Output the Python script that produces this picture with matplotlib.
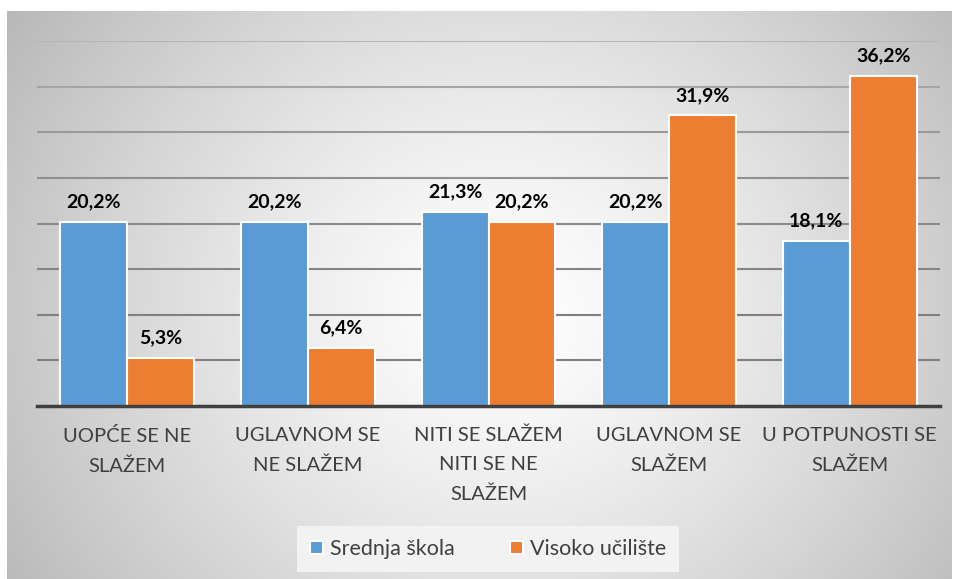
import numpy as np
import matplotlib.pyplot as plt

plt.rcParams['font.family'] = ['Lato', 'DejaVu Sans']

# podaci
kategorije = ['UOPĆE SE NE\nSLAŽEM', 'UGLAVNOM SE\nNE SLAŽEM', 'NITI SE SLAŽEM\nNITI SE NE\nSLAŽEM',
              'UGLAVNOM SE\nSLAŽEM', 'U POTPUNOSTI SE\nSLAŽEM']
srednja = [20.2, 20.2, 21.3, 20.2, 18.1]
visoko = [5.3, 6.4, 20.2, 31.9, 36.2]
serije = ['Srednja škola', 'Visoko učilište']
boje = ['#5B9BD5', '#ED7D31']

W, H = 955, 579
fig = plt.figure(figsize=(W / 100, H / 100), dpi=100)

# pozadina s radijalnim gradijentom
bg = fig.add_axes([0, 0, 1, 1], zorder=-1)
yy, xx = np.mgrid[0:H, 0:W]
r = np.hypot(xx - 500, (yy - 310) * 1.1) / 560
val = np.clip(1 - 0.26 * r ** 1.3, 0, 1)
img = np.dstack([val, val, val])
img[:11, :] = 1
img[:, :7] = 1
img[:, 951:] = 1
bg.imshow(img, extent=[0, W, H, 0], aspect='auto')
bg.set_xlim(0, W)
bg.set_ylim(H, 0)
bg.axis('off')

ax = fig.add_axes([37 / W, (H - 406) / H, (940 - 37) / W, (406 - 41) / H])
ax.set_facecolor('none')

x = np.arange(len(kategorije))
w = 0.37
b1 = ax.bar(x - w / 2, srednja, w, color=boje[0], edgecolor='white', linewidth=1.5, label=serije[0], zorder=3)
b2 = ax.bar(x + w / 2, visoko, w, color=boje[1], edgecolor='white', linewidth=1.5, label=serije[1], zorder=3)

for bars in (b1, b2):
    for b in bars:
        ax.annotate(f'{b.get_height():.1f}%'.replace('.', ','),
                    (b.get_x() + b.get_width() / 2, b.get_height()),
                    xytext=(0, 8), textcoords='offset points', ha='center', va='bottom',
                    fontsize=14, fontweight='bold', color='black', zorder=4)

ax.set_xlim(-0.5, 4.5)
ax.set_ylim(0, 40)
sive = ['#808080', '#808080', '#858585', '#8a8a8a', '#909090', '#999999', '#a5a5a5', '#b5b5b5']
for i, g in enumerate(range(5, 45, 5)):
    ax.axhline(g, color=sive[i], lw=1.5, zorder=1)

ax.set_yticks([])
ax.set_xticks(x)
ax.set_xticklabels(kategorije, fontsize=14.5, color='#404040', linespacing=1.85)
ax.tick_params(axis='x', length=0, pad=15)
for s in ['top', 'right', 'left']:
    ax.spines[s].set_visible(False)
ax.spines['bottom'].set_color('#404040')
ax.spines['bottom'].set_linewidth(2.5)
ax.spines['bottom'].set_zorder(5)

leg = fig.legend(loc='center', bbox_to_anchor=(488 / W, (H - 549) / H), ncol=2, fontsize=15.5,
                 frameon=True, facecolor='#f2f2f2', edgecolor='none', framealpha=1, fancybox=False,
                 handlelength=0.6, handleheight=0.6, handletextpad=0.3, columnspacing=2.6,
                 borderpad=0.6, borderaxespad=0)
for t in leg.get_texts():
    t.set_color('#404040')
for h in leg.legend_handles:
    h.set_edgecolor('white')

plt.savefig('out.png', dpi=100)
